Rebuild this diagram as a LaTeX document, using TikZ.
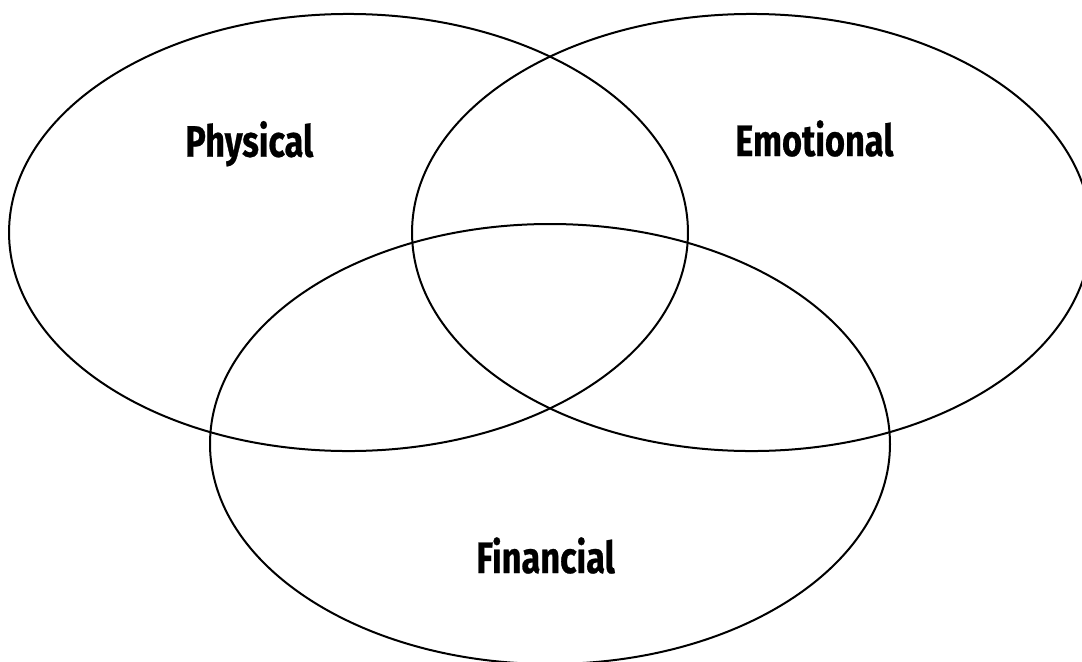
\documentclass[tikz,border=0pt]{standalone}
\usepackage{fontspec}
\setmainfont{Fira Sans}
\newfontfamily\labelfont[FakeStretch=0.78,FakeBold=0.6]{Fira Sans}
\begin{document}
\begin{tikzpicture}[x=0.75pt,y=-0.75pt,
  ring/.style={draw=black,line width=1.5pt},
  lbl/.style={font=\labelfont\bfseries\fontsize{33}{33}\selectfont,inner sep=0pt,anchor=base west}]
\clip (0,0) rectangle (1082,661);
\fill[white] (0,0) rectangle (1082,661);
\coordinate (cp) at (348.5,232.5);
\coordinate (ce) at (751.5,232.5);
\coordinate (cf) at (550,444);
\draw[ring] (cp) ellipse [x radius=254.6pt,y radius=163.9pt];
\draw[ring] (ce) ellipse [x radius=254.6pt,y radius=163.9pt];
\draw[ring] (cf) ellipse [x radius=255pt,y radius=165pt];
\node[lbl] (physical) at (185,156.7) {Physical};
\node[lbl] (emotional) at (735,156) {Emotional};
\node[lbl] (financial) at (476,573) {Financial};
\end{tikzpicture}
\end{document}
